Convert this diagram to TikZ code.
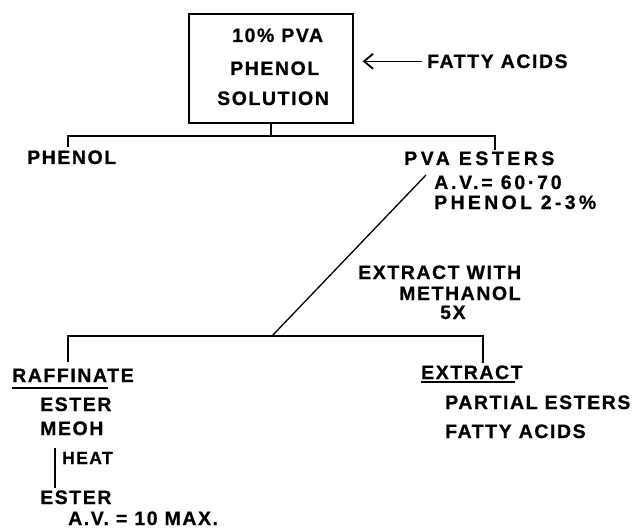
\documentclass[tikz,border=0pt]{standalone}
\usepackage{fontspec}
\setmainfont{Liberation Sans}[LetterSpace=8, BoldFeatures={FakeBold=0.7}]
\usetikzlibrary{arrows.meta}
\begin{document}
\begin{tikzpicture}[x=1pt,y=-1pt,
  lbl/.style={font=\bfseries\fontsize{19.5}{22}\selectfont, inner sep=0pt, anchor=base west},
  wide/.style={lbl, font=\bfseries\fontsize{19.5}{22}\selectfont\addfontfeature{LetterSpace=#1}},
  small/.style={lbl, font=\bfseries\fontsize{17.5}{20}\selectfont},
  ln/.style={line width=1.3pt},
  barb/.style={-{Straight Barb[length=9pt,width=15pt,line width=1.8pt]}}]
\useasboundingbox (0,0) rectangle (644,529);
% feed box
\node[draw, ln, minimum width=164pt, minimum height=109pt, inner sep=0pt] (box) at (271,68.5) {};
\node[lbl] (t1) at (232,42) {10\% PVA};
\node[lbl] (t2) at (230,75) {PHENOL};
\node[lbl] (t3) at (217,105) {SOLUTION};
\node[lbl] (fa) at (427,68) {FATTY ACIDS};
\draw[ln, barb, shorten <=5pt, shorten >=9pt] (fa.west) -- (fa.west -| box.east);
% first split
\node[lbl] (ph) at (27,164) {PHENOL};
\node[wide=18] (pva) at (404,165) {PVA ESTERS};
\node[wide=14] (av1) at (434,189) {A.V.= 60·70};
\node[wide=17] (ph2) at (434,209) {PHENOL 2-3\%};
\coordinate (j1) at (271,136);
\coordinate (l1) at (68,136);
\coordinate (r1) at (495,136);
\coordinate (l1e) at (68,147);
\coordinate (r1e) at (495,150);
\draw[ln] (box.south) -- (j1);
\draw[ln] (l1e) -- (l1) -- (r1) -- (r1e);
% extraction
\node[lbl] (ex1) at (358,279) {EXTRACT WITH};
\node[lbl] (ex2) at (399,300) {METHANOL};
\node[lbl] (ex3) at (440,319) {5X};
\coordinate (d1) at (426,175);
\coordinate (d2) at (272,336);
\draw[ln] (d1) -- (d2);
\coordinate (l2) at (68,336);
\coordinate (r2) at (483,336);
\coordinate (l2e) at (68,362);
\coordinate (r2e) at (483,363);
\draw[ln] (l2e) -- (l2) -- (r2) -- (r2e);
% raffinate
\node[lbl] (raf) at (12,382) {RAFFINATE};
\coordinate (u1) at (12,388);
\coordinate (u2) at (108,388);
\draw[ln] (u1) -- (u2);
\node[lbl] (es1) at (40,411) {ESTER};
\node[lbl] (meoh) at (40,435) {MEOH};
\node[small] (heat) at (62,464) {HEAT};
\coordinate (h1) at (55,448);
\coordinate (h2) at (55,488);
\draw[ln] (h1) -- (h2);
\node[lbl] (es2) at (40,504) {ESTER};
\node[lbl] (av2) at (68,525) {A.V. = 10 MAX.};
% extract
\node[lbl] (ext) at (421,379) {EXTRACT};
\coordinate (u3) at (421,382);
\coordinate (u4) at (515,382);
\draw[ln] (u3) -- (u4);
\node[lbl] (pe) at (445,409) {PARTIAL ESTERS};
\node[lbl] (fa2) at (445,438) {FATTY ACIDS};
\end{tikzpicture}
\end{document}
